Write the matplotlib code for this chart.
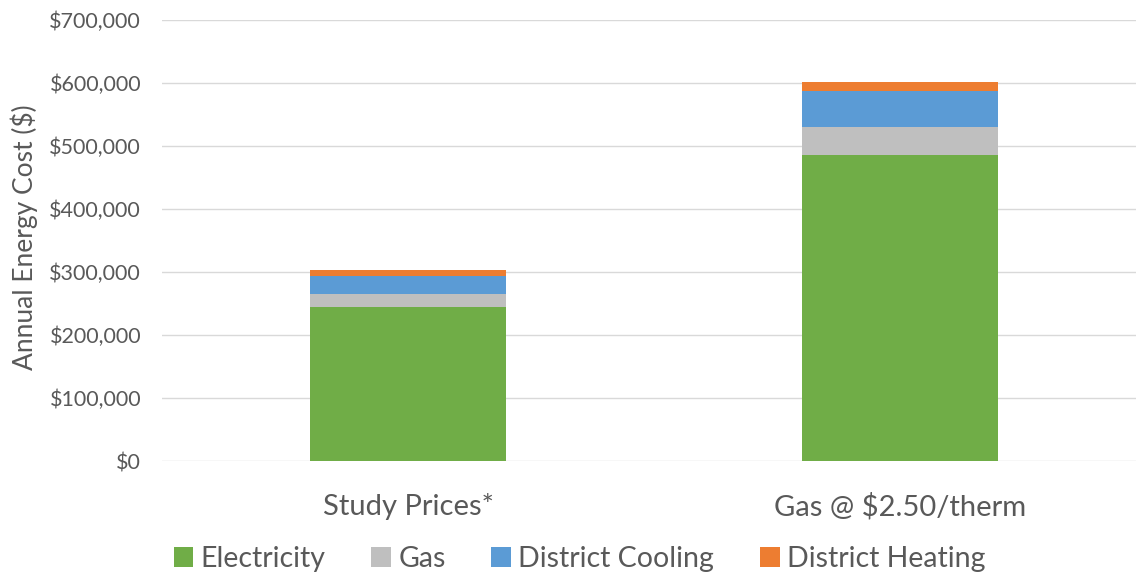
import matplotlib
matplotlib.use("Agg")
import matplotlib.pyplot as plt
from matplotlib.ticker import FuncFormatter

categories = ["Study Prices*", "Gas @ $2.50/therm"]
series_names = ["Electricity", "Gas", "District Cooling", "District Heating"]
electricity = [244000, 486000]
gas = [21000, 44000]
district_cooling = [29000, 57000]
district_heating = [9000, 15000]
colors = ["#70AD47", "#BFBFBF", "#5B9BD5", "#ED7D31"]

plt.rcParams['font.family'] = ['Lato', 'DejaVu Sans']
text_color = "#595959"

fig = plt.figure(figsize=(11.36, 5.75), dpi=100)
ax = fig.add_axes([162/1136, (575-461)/575, (1146-162)/1136, (461-20)/575])

x = list(range(len(categories)))
bottom = [0]*len(categories)
for name, vals, c in zip(series_names, [electricity, gas, district_cooling, district_heating], colors):
    ax.bar(x, vals, width=0.4, bottom=bottom, color=c, label=name, zorder=3)
    bottom = [b+v for b, v in zip(bottom, vals)]

ax.set_ylim(0, 700000)
ax.set_xlim(-0.5, 1.5)
ax.set_yticks(range(0, 700001, 100000))
ax.yaxis.set_major_formatter(FuncFormatter(lambda v, p: f"${int(v):,}"))
ax.grid(axis='y', color="#D9D9D9", linewidth=1, zorder=0)
for s in ax.spines.values():
    s.set_visible(False)
ax.tick_params(axis='both', length=0, colors=text_color)
ax.tick_params(axis='y', labelsize=15.5, pad=15)
ax.tick_params(axis='x', labelsize=21, pad=23)
ax.set_xticks(x)
ax.set_xticklabels(categories)
fig.text(24/1136, (575-237)/575, "Annual Energy Cost ($)", rotation=90, ha='center', va='center',
         fontsize=19, color=text_color)

leg = fig.legend(loc='lower center', bbox_to_anchor=(0.51, -0.04), ncol=4, frameon=False,
                 fontsize=20.5, handlelength=0.7, handleheight=0.7, handletextpad=0.25,
                 columnspacing=1.6)
for t in leg.get_texts():
    t.set_color(text_color)

fig.savefig("out.png", dpi=100)
